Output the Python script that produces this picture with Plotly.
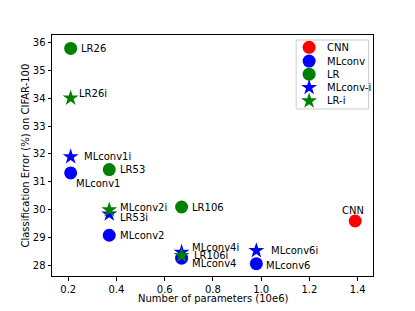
import plotly.graph_objects as go

# Data
cnn_x = [1.39]
cnn_y = [29.6]
mlconv_x = [0.21, 0.37, 0.67, 0.98]
mlconv_y = [31.32, 29.09, 28.27, 28.07]
lr_x = [0.21, 0.37, 0.67]
lr_y = [35.78, 31.44, 30.10]
mlconvi_x = [0.21, 0.37, 0.67, 0.98]
mlconvi_y = [31.90, 29.85, 28.48, 28.54]
lri_x = [0.21, 0.37, 0.67]
lri_y = [34.00, 30.00, 28.36]

# point labels: text, x, y, anchor
labels = [
    ("LR26", 0.244, 35.78, "left"),
    ("LR26i", 0.236, 34.18, "left"),
    ("MLconv1i", 0.2555, 31.90, "left"),
    ("MLconv1", 0.2236, 30.93, "left"),
    ("LR53", 0.4044, 31.44, "left"),
    ("MLconv2i", 0.4044, 30.07, "left"),
    ("LR53i", 0.4044, 29.73, "left"),
    ("MLconv2", 0.4044, 29.09, "left"),
    ("LR106", 0.7036, 30.10, "left"),
    ("MLconv4i", 0.7036, 28.65, "left"),
    ("LR106i", 0.713, 28.36, "left"),
    ("MLconv4", 0.7036, 28.07, "left"),
    ("MLconv6i", 1.032, 28.56, "left"),
    ("MLconv6", 1.013, 27.99, "left"),
    ("CNN", 1.381, 29.97, "center"),
]

RED = "#ff0000"
BLUE = "#0000ff"
GREEN = "#008000"
FONT = "DejaVu Sans"
CIRCLE = 13
STAR = 12

series = [
    ("CNN", cnn_x, cnn_y, RED, "circle", CIRCLE),
    ("MLconv", mlconv_x, mlconv_y, BLUE, "circle", CIRCLE),
    ("LR", lr_x, lr_y, GREEN, "circle", CIRCLE),
    ("MLconv-i", mlconvi_x, mlconvi_y, BLUE, "star", STAR),
    ("LR-i", lri_x, lri_y, GREEN, "star", STAR),
]

fig = go.Figure()
for name, xs, ys, col, sym, sz in series:
    fig.add_trace(go.Scatter(x=xs, y=ys, mode="markers", name=name, showlegend=False,
                             marker=dict(color=col, size=sz, symbol=sym,
                                         line=dict(width=0))))

for t, x, y, anc in labels:
    fig.add_annotation(x=x, y=y, text=t, showarrow=False, xanchor=anc, yanchor="middle",
                       font=dict(family=FONT, size=10, color="black"))

# Legend drawn on an overlay axis spanning the plot area (0..1 both ways)
leg_x0, leg_x1, leg_y0, leg_y1 = 0.7606, 0.9863, 0.693, 0.9792
leg_marker_x = 0.801
leg_text_x = 0.8517
leg_rows = [0.9488, 0.8917, 0.8375, 0.7821, 0.7263]
fig.add_shape(type="rect", xref="paper", yref="paper", x0=leg_x0, x1=leg_x1, y0=leg_y0, y1=leg_y1,
              line=dict(color="#cccccc", width=1), fillcolor="white", layer="below")
for (name, xs, ys, col, sym, sz), ry in zip(series, leg_rows):
    fig.add_trace(go.Scatter(x=[leg_marker_x], y=[ry], xaxis="x2", yaxis="y2", mode="markers",
                             showlegend=False, hoverinfo="skip",
                             marker=dict(color=col, size=sz, symbol=sym, line=dict(width=0))))
    fig.add_annotation(x=leg_text_x, y=ry, xref="paper", yref="paper", text=name, showarrow=False,
                       xanchor="left", yanchor="middle", font=dict(family=FONT, size=10, color="black"))

# axis titles as annotations for precise placement
fig.add_annotation(x=0.5, y=-0.0954, xref="paper", yref="paper", text="Number of parameters (10e6)",
                   showarrow=False, xanchor="center", yanchor="middle",
                   font=dict(family=FONT, size=10, color="black"))
fig.add_annotation(x=-0.084, y=0.5, xref="paper", yref="paper", text="Classification Error (%) on CIFAR-100",
                   showarrow=False, xanchor="center", yanchor="middle", textangle=-90,
                   font=dict(family=FONT, size=10, color="black"))

axis_common = dict(showgrid=False, zeroline=False, showline=True, linecolor="black",
                   linewidth=1, mirror=True, ticks="outside", ticklen=3.5, tickcolor="black",
                   automargin=False,
                   tickfont=dict(family=FONT, size=10, color="black"))

fig.update_xaxes(range=[0.1326, 1.4637], tickvals=[0.2, 0.4, 0.6, 0.8, 1.0, 1.2, 1.4],
                 ticktext=["0.2", "0.4", "0.6", "0.8", "1.0", "1.2", "1.4"],
                 **axis_common)
fig.update_yaxes(range=[27.63, 36.26], tickvals=[28, 29, 30, 31, 32, 33, 34, 35, 36],
                 **axis_common)

# The page body has an 8px margin, so the figure is 8px smaller and margins compensate.
fig.update_layout(
    width=407, height=303,
    margin=dict(l=44, r=42, t=27, b=35),
    paper_bgcolor="white", plot_bgcolor="white",
    font=dict(family=FONT, size=10, color="black"),
    showlegend=False,
    xaxis2=dict(range=[0, 1], overlaying="x", visible=False, fixedrange=True),
    yaxis2=dict(range=[0, 1], overlaying="y", visible=False, fixedrange=True),
)

fig.write_html("out.html")
